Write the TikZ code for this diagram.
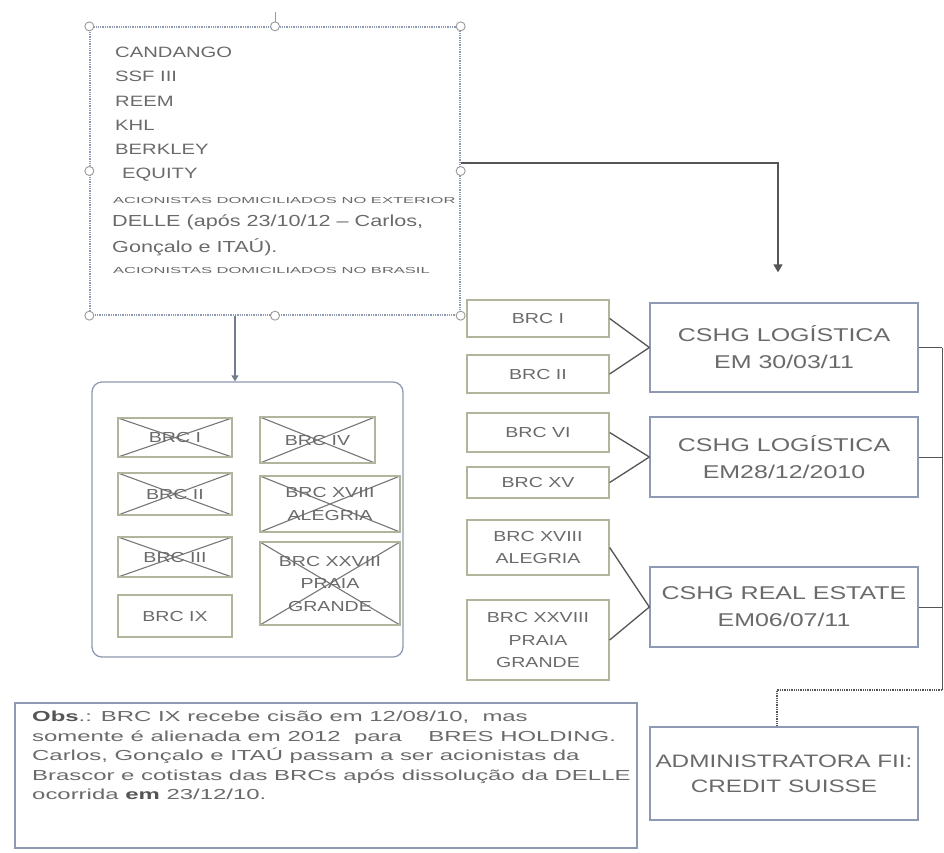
\documentclass[tikz,border=0pt]{standalone}
\usepackage{fontspec}
\setmainfont{Liberation Sans}[FakeStretch=1.35]
\newfontfamily\tinyfont{Liberation Sans}[FakeStretch=1.9]
\newfontfamily\obsfont{Liberation Sans}[FakeStretch=1.65]
\usetikzlibrary{arrows.meta}
\definecolor{txtgray}{HTML}{6A6A6A}
\definecolor{khaki}{HTML}{B2B49C}
\definecolor{bluegray}{HTML}{8E9AB2}
\definecolor{linegray}{HTML}{555555}

\tikzset{
  brcbox/.style={draw=khaki, line width=1.3pt, minimum width=142pt, align=center,
    inner sep=0pt, text=txtgray, font=\fontsize{14.5}{22.5}\selectfont},
  crossed/.style={path picture={
    \draw[linegray!80, line width=1.1pt] (path picture bounding box.north west) -- (path picture bounding box.south east)
      (path picture bounding box.north east) -- (path picture bounding box.south west);}},
  fundbox/.style={draw=bluegray, line width=1.3pt, minimum width=268pt, align=center,
    inner sep=0pt, text=txtgray, font=\fontsize{18.5}{27}\selectfont},
  link/.style={draw=linegray, line width=1.3pt},
  handle/.style={circle, draw=gray!80, fill=white, line width=0.9pt, inner sep=0pt, minimum size=9pt},
  listtext/.style={anchor=west, inner sep=0pt, text=txtgray, font=\fontsize{15}{18}\selectfont},
}

\begin{document}
\begin{tikzpicture}[x=1pt,y=-1pt]
    \useasboundingbox (0,0) rectangle (944,852);

    % shareholders box
    \node [draw=bluegray, densely dotted, line width=1.3pt, minimum width=370pt, minimum height=288pt] (owners) at (275,171) {};
    \draw [gray!80, line width=0.9pt] (owners.north) -- ++(0,-14);
    \foreach \a/\n in {north west/nw, north/n, north east/ne, east/e, south east/se, south/s, south west/sw, west/w}
        \node [handle] (h-\n) at (owners.\a) {};
    \foreach \t/\x/\y [count=\i] in {CANDANGO/115/52, SSF III/115/76, REEM/115/101, KHL/115/125, BERKLEY/115/149, EQUITY/122/175}
        \node [listtext] (own\i) at (\x,\y) {\t};
    \node [listtext, font=\tinyfont\fontsize{8.7}{10}\selectfont] (ext) at (113,200) {ACIONISTAS DOMICILIADOS NO EXTERIOR};
    \node [listtext, font=\fontsize{16}{26}\selectfont, align=left] (delle) at (112,235) {DELLE (após 23/10/12 -- Carlos,\\Gonçalo e ITAÚ).};
    \node [listtext, font=\tinyfont\fontsize{8.7}{10}\selectfont] (bra) at (113,270) {ACIONISTAS DOMICILIADOS NO BRASIL};

    % extinct BRCs
    \node [draw=bluegray, rounded corners=10pt, line width=1.3pt, minimum width=311pt, minimum height=275pt] (old) at (247.5,519.5) {};
    \node [brcbox, crossed, minimum width=114pt, minimum height=39pt] (oI) at (175,437.5) {BRC I};
    \node [brcbox, crossed, minimum width=114pt, minimum height=42pt] (oII) at (175,494) {BRC II};
    \node [brcbox, crossed, minimum width=114pt, minimum height=40pt] (oIII) at (175,557) {BRC III};
    \node [brcbox, minimum width=114pt, minimum height=42pt] (oIX) at (175,616) {BRC IX};
    \node [brcbox, crossed, minimum width=115pt, minimum height=46pt] (oIV) at (317.5,440) {BRC IV};
    \node [brcbox, crossed, minimum width=140pt, minimum height=56pt] (oXVIII) at (330,504) {BRC XVIII\\ALEGRIA};
    \node [brcbox, crossed, minimum width=140pt, minimum height=83pt] (oXXVIII) at (330,583.5) {BRC XXVIII\\PRAIA\\GRANDE};

    % BRCs and funds
    \node [brcbox, minimum height=37pt] (brcI) at (538,318.5) {BRC I};
    \node [brcbox, minimum height=38pt] (brcII) at (538,374) {BRC II};
    \node [brcbox, minimum height=39pt] (brcVI) at (538,432.5) {BRC VI};
    \node [brcbox, minimum height=31pt] (brcXV) at (538,482.5) {BRC XV};
    \node [brcbox, minimum height=55pt] (brcXVIII) at (538,547.5) {BRC XVIII\\ALEGRIA};
    \node [brcbox, minimum height=80pt] (brcXXVIII) at (538,640) {BRC XXVIII\\PRAIA\\GRANDE};

    \node [fundbox, minimum height=89pt] (log1) at (784,347.5) {CSHG LOGÍSTICA\\EM 30/03/11};
    \node [fundbox, minimum height=80pt] (log2) at (784,457) {CSHG LOGÍSTICA\\EM28/12/2010};
    \node [fundbox, minimum height=80pt] (real) at (784,607) {CSHG REAL ESTATE\\EM06/07/11};
    \node [fundbox, minimum height=93pt, font=\fontsize{18}{25}\selectfont] (admin) at (784,773.5) {ADMINISTRATORA FII:\\CREDIT SUISSE};

    \node [draw=bluegray, line width=1.3pt, minimum width=622pt, minimum height=145pt] (obsbox) at (326,775.5) {};
    \node [anchor=north west, inner sep=0pt, align=left, text=txtgray, font=\obsfont\fontsize{14.5}{19.5}\selectfont] (obs) at (32,711)
        {{\bfseries\color{linegray}Obs}.: BRC IX recebe cisão em 12/08/10,\ \ mas\\
         somente é alienada em 2012\ \ para\ \ \ \ BRES HOLDING.\\
         Carlos, Gonçalo e ITAÚ passam a ser acionistas da\\
         Brascor e cotistas das BRCs após dissolução da DELLE\\
         ocorrida {\bfseries\color{linegray}em} 23/12/10.};

    % connectors
    \draw [link, -{Triangle[length=8pt,width=9pt]}] ([yshift=8pt]owners.east) -| ([xshift=-6pt,yshift=30pt]log1.north);
    \draw [link, draw=bluegray!80!black, -{Triangle[length=6pt,width=7pt]}] ([xshift=-40pt]owners.south) -- ([xshift=-40pt]owners.south |- old.north);

    \draw [link] (brcI.east) -- (log1.west);
    \draw [link] (brcII.east) -- (log1.west);
    \draw [link] (brcVI.east) -- (log2.west);
    \draw [link] (brcXV.east) -- (log2.west);
    \draw [link] (brcXVIII.east) -- (real.west);
    \draw [link] (brcXXVIII.east) -- (real.west);

    \coordinate (railtop) at (942,347.5);
    \coordinate (railbot) at (942,690);
    \draw [link, line width=0.9pt] (log1.east) -- (log1.east -| railtop);
    \draw [link, line width=0.9pt] (log2.east) -- (log2.east -| railtop);
    \draw [link, line width=0.9pt] (real.east) -- (real.east -| railtop);
    \draw [link, line width=0.9pt] (railtop) -- (railbot);
    \draw [link, densely dotted, line width=1.1pt] (railbot) -| ([xshift=-7pt]admin.north);
\end{tikzpicture}
\end{document}
